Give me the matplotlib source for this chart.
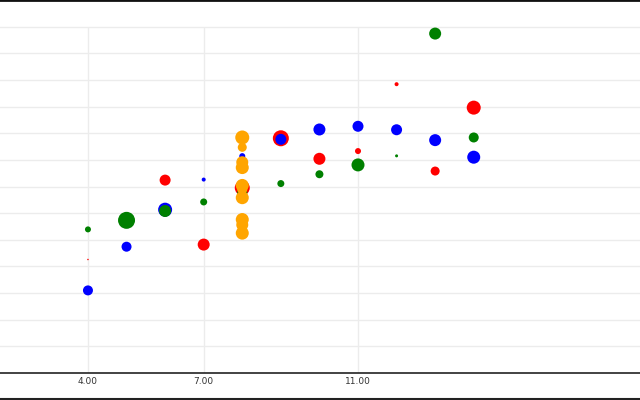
import matplotlib
matplotlib.use('Agg')
from matplotlib import pyplot as plt
from matplotlib.lines import Line2D
import numpy as np

# Anscombe-style quartet, with bubble size per point (diameter, px)
x_main = [4, 5, 6, 7, 8, 9, 10, 11, 12, 13, 14]
y_one = [4.26, 5.68, 7.24, 4.82, 6.95, 8.81, 8.04, 8.33, 10.84, 7.58, 9.96]
y_two = [3.10, 4.74, 6.13, 7.26, 8.14, 8.77, 9.14, 9.26, 9.13, 8.74, 8.10]
y_three = [5.39, 5.73, 6.08, 6.42, 6.77, 7.11, 7.46, 7.81, 8.15, 12.74, 8.84]
x_four = [8, 8, 8, 8, 8, 8, 8, 19, 8, 8, 8]
y_four = [6.58, 5.76, 7.71, 8.84, 8.47, 7.04, 5.25, 12.50, 5.56, 7.91, 6.89]

size_one = [1.5, 12, 11, 12, 15, 16, 12, 6, 4, 9, 14]
size_two = [10, 10, 14, 4, 6, 11, 12, 11, 11, 12, 13]
size_three = [6, 17, 12, 7, 10, 7, 8, 13, 3, 12, 10]
size_four = [13, 13, 13, 14, 9, 13, 13, 13, 12, 12, 10]

tick_vals = [4, 7, 11]

def area(d):
    # pixel diameter -> scatter area in points^2 (dpi 100)
    return (np.array(d) * 0.72) ** 2

fig = plt.figure(figsize=(6.4, 4), dpi=100)
ax = fig.add_axes([0, 27 / 400, 1, 373 / 400])

ax.set_xlim(1.72, 18.31)
ax.set_ylim(0, 14)

# grid
for yv in range(1, 14):
    ax.axhline(yv, color='#ececec', lw=1, zorder=0)
ax.vlines(tick_vals, 0, 13, color='#ececec', lw=1, zorder=0)

ax.scatter(x_main, y_one, s=area(size_one), color='red', lw=0, zorder=2)
ax.scatter(x_main, y_two, s=area(size_two), color='blue', lw=0, zorder=3)
ax.scatter(x_main, y_three, s=area(size_three), color='green', lw=0, zorder=4)
ax.scatter(x_four, y_four, s=area(size_four), color='orange', lw=0, zorder=5)

ax.set_xticks(tick_vals)
ax.set_xticklabels(['%.2f' % v for v in tick_vals])
ax.tick_params(axis='x', length=0, pad=3, labelsize=6.5, labelcolor='#333333')
ax.set_yticks([])

for side in ['left', 'right']:
    ax.spines[side].set_visible(False)
ax.spines['top'].set_color('#111111')
ax.spines['top'].set_linewidth(2)
ax.spines['bottom'].set_color('#222222')
ax.spines['bottom'].set_linewidth(1.2)

# bottom border of the figure
fig.add_artist(Line2D([0, 1], [0.002, 0.002], color='#222222', lw=1.5))

plt.savefig('out.png', dpi=100)
